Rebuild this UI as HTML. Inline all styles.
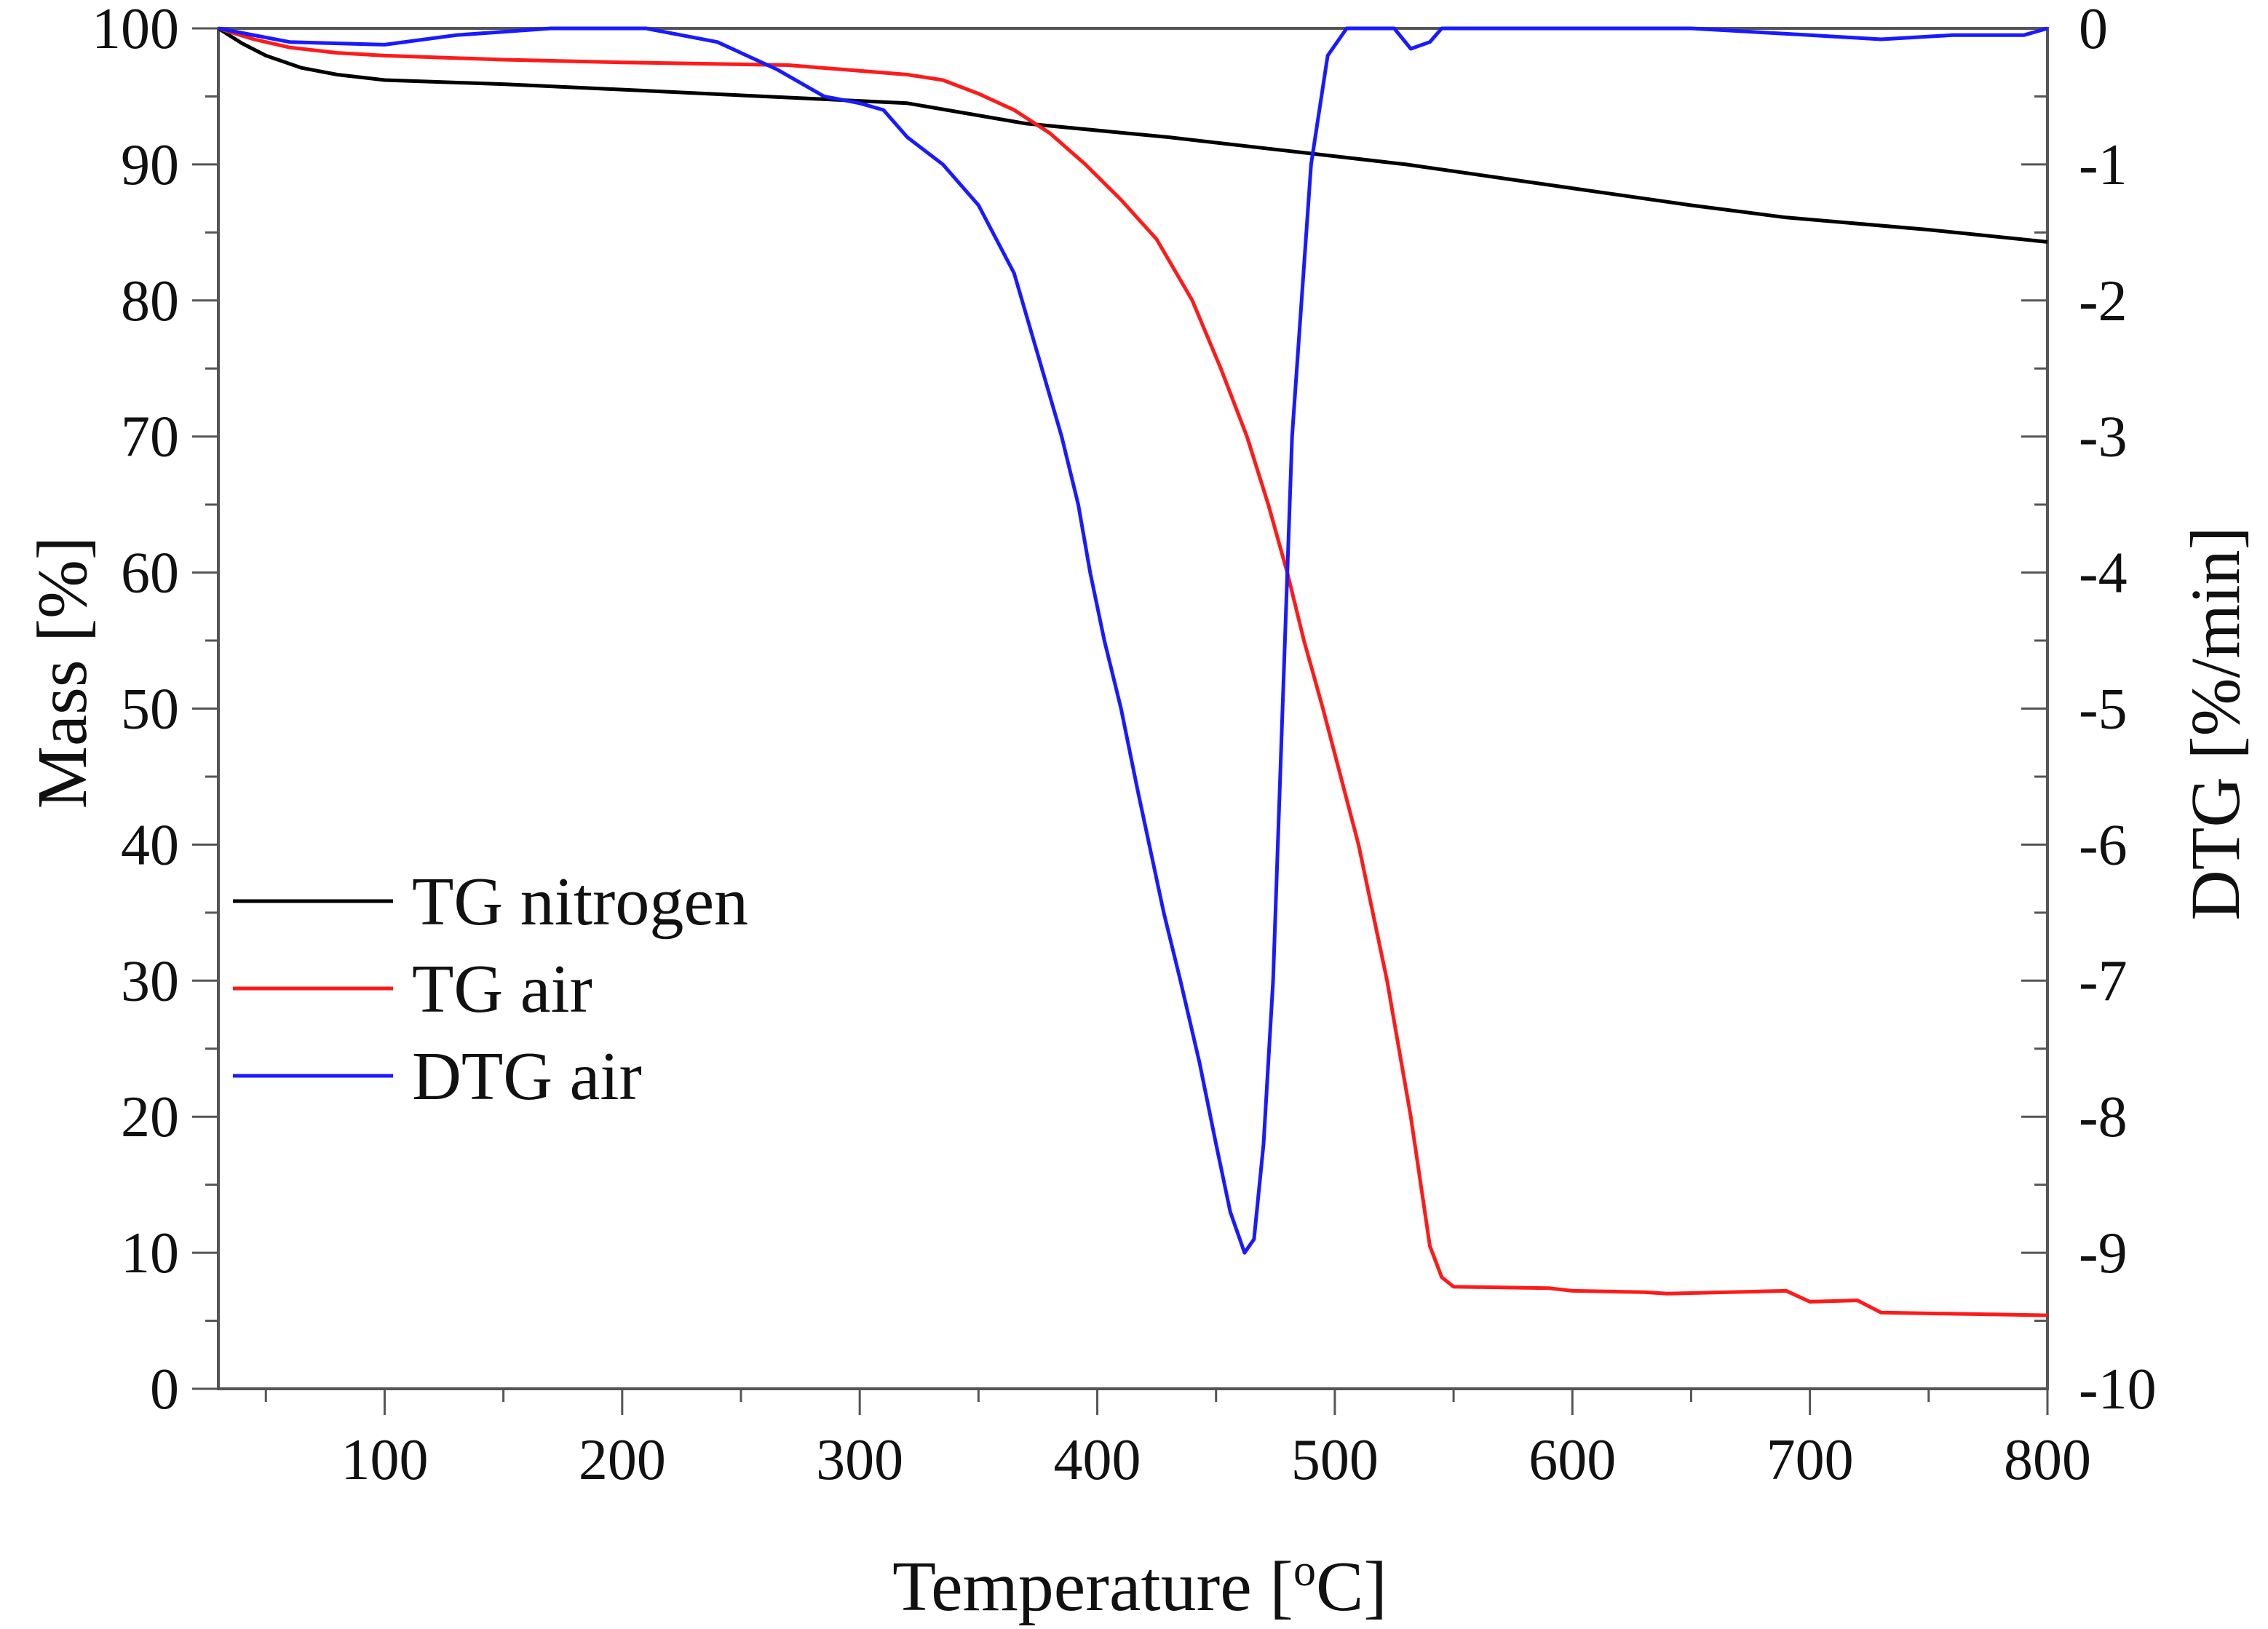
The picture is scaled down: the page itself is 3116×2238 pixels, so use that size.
<!DOCTYPE html>
<html><head><meta charset="utf-8"><style>
body{margin:0;background:#fff}
svg{display:block}
text{font-family:"Liberation Serif",serif;fill:#111}
</style></head><body>
<svg id="chart" width="3116" height="2238" viewBox="0 0 3116 2238" xmlns="http://www.w3.org/2000/svg">
<rect width="3116" height="2238" fill="#fff"/>
<g id="plot"></g>
</svg>
<script>
const nitroT=[30,40,50,65,80,100,150,200,260,320,370,430,480,530,570,610,650,690,750,800];
const nitroM=[100,98.9,98.0,97.1,96.6,96.2,95.9,95.5,95.0,94.5,93.0,92.0,91.0,90.0,89.0,88.0,87.0,86.1,85.2,84.3];
const airT=[30,45,60,80,100,150,200,270,320,335,350,365,380,395,410,425,440,452,463,472,480,487,495,510,522,532,540,545,550,590,600,630,640,690,700,720,730,800];
const airM=[100,99.2,98.6,98.2,98.0,97.7,97.5,97.3,96.6,96.2,95.2,94.0,92.3,90.0,87.4,84.5,80.0,75.0,70.0,65.0,60.0,55.0,50.0,40.0,30.0,20.0,10.5,8.2,7.5,7.4,7.2,7.1,7.0,7.2,6.4,6.5,5.6,5.4];
const dtgT=[30,60,100,130,170,210,240,265,285,300,310,320,335,350,365,375,385,392,397,403,410,417,428,435,443,450,456,462,466,470,474,478,482,490,497,505,525,532,540,545,650,700,730,760,790,800];
const dtgV=[0,-0.1,-0.12,-0.05,0,0,-0.1,-0.3,-0.5,-0.55,-0.6,-0.8,-1.0,-1.3,-1.8,-2.4,-3.0,-3.5,-4.0,-4.5,-5.0,-5.6,-6.5,-7.0,-7.6,-8.2,-8.7,-9.0,-8.9,-8.2,-7.0,-5.0,-3.0,-1.0,-0.2,0,0,-0.15,-0.1,0,0,-0.05,-0.08,-0.05,-0.05,0];
const xTicks=[100,200,300,400,500,600,700,800];
const yTicks=[0,10,20,30,40,50,60,70,80,90,100];
const y2Ticks=[0,-1,-2,-3,-4,-5,-6,-7,-8,-9,-10];

const L=300,R=2813,T=39,B=1908;
const sx=v=>L+(v-30)/(800-30)*(R-L);
const sy=v=>B-v/100*(B-T);
const sy2=v=>T+(-v)/10*(B-T);
const g=document.getElementById('plot');
const NS='http://www.w3.org/2000/svg';
function mk(tag,attrs){const e=document.createElementNS(NS,tag);for(const k in attrs)e.setAttribute(k,attrs[k]);g.appendChild(e);return e;}
const ax='#555';
let e=mk('rect',{x:L,y:T,width:R-L,height:B-T,fill:'none',stroke:ax,'stroke-width':4});


for(let v=50;v<=800;v+=50){
  const major=v%100===0;
  e=mk('line',{x1:sx(v),x2:sx(v),y1:B,y2:B+(major?36:18),stroke:ax,'stroke-width':3});
  
  
}
xTicks.forEach(v=>{
  e=mk('text',{x:sx(v),y:B+124,'text-anchor':'middle','font-size':80});
  e.textContent=v;
  
  
});
for(let v=0;v<=100;v+=5){
  const major=v%10===0;
  e=mk('line',{x1:L,x2:L-(major?36:18),y1:sy(v),y2:sy(v),stroke:ax,'stroke-width':3});
  
  
}
yTicks.forEach(v=>{
  e=mk('text',{x:246,y:sy(v)+27,'text-anchor':'end','font-size':80});
  e.textContent=v;
  
  
});
for(let i=0;i<=20;i++){
  const v=-i/2,major=i%2===0;
  e=mk('line',{x1:R,x2:R-(major?36:18),y1:sy2(v),y2:sy2(v),stroke:ax,'stroke-width':3});
  
  
}
y2Ticks.forEach(v=>{
  e=mk('text',{x:2856,y:sy2(v)+27,'text-anchor':'start','font-size':80});
  e.textContent=v;
  
  
});
e=mk('text',{x:1566,y:2212,'text-anchor':'middle','font-size':98});
e.innerHTML='Temperature [<tspan baseline-shift="super" font-size="62">o</tspan>C]';


e=mk('text',{x:0,y:0,'text-anchor':'middle','font-size':97,transform:'translate(118,924) rotate(-90)'});
e.textContent='Mass [%]';


e=mk('text',{x:0,y:0,'text-anchor':'middle','font-size':96,transform:'translate(3076,994) rotate(-90)'});
e.textContent='DTG [%/min]';


function line(xs,ys,fy,color,name){
  const d=xs.map((x,i)=>(i?'L':'M')+sx(x).toFixed(1)+','+fy(ys[i]).toFixed(1)).join('');
  const p=mk('path',{d:d,fill:'none',stroke:color,'stroke-width':5,'stroke-linejoin':'round'});
  
  
}
line(nitroT,nitroM,sy,'#000','tg-nitrogen-line');
line(airT,airM,sy,'#ff1a1a','tg-air-line');
line(dtgT,dtgV,sy2,'#1a1aff','dtg-air-line');
const leg=[['TG nitrogen','#000'],['TG air','#ff1a1a'],['DTG air','#1a1aff']];
leg.forEach((l,i)=>{
  const y=1238+i*120;
  e=mk('line',{x1:320,x2:540,y1:y,y2:y,stroke:l[1],'stroke-width':5});
  
  
  e=mk('text',{x:566,y:y+32,'font-size':94});
  e.textContent=l[0];
  
  
});
</script>
</body></html>
